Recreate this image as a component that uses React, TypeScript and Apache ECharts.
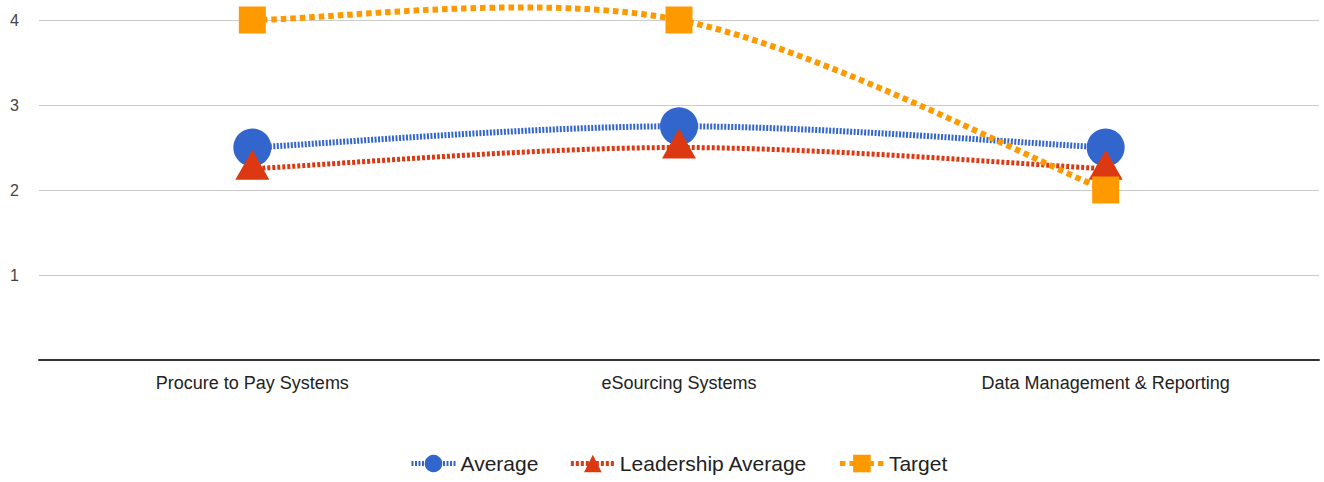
import React, { useEffect, useRef } from "react";
import * as echarts from "echarts";

const categories = ["Procure to Pay Systems", "eSourcing Systems", "Data Management & Reporting"];
const averageValues = [2.5, 2.75, 2.5];
const leadershipValues = [2.25, 2.5, 2.25];
const targetValues = [4, 4, 2];
const yTicks = [0, 1, 2, 3, 4];

const font = "Arial, 'Liberation Sans', sans-serif";

function curveSeries(id: string, values: number[], color: string, width: number, dash: number[], z: number) {
  return {
    id,
    type: "custom",
    z,
    silent: true,
    data: [[0, values[0]]],
    renderItem: (params: any, api: any) => {
      const pts = values.map((v, i) => api.coord([i, v]));
      const k = 1 / 6;
      const out: number[][] = [];
      for (let i = 0; i < pts.length - 1; i++) {
        const p0 = pts[Math.max(0, i - 1)];
        const p1 = pts[i];
        const p2 = pts[i + 1];
        const p3 = pts[Math.min(pts.length - 1, i + 2)];
        const c1 = [p1[0] + (p2[0] - p0[0]) * k, p1[1] + (p2[1] - p0[1]) * k];
        const c2 = [p2[0] - (p3[0] - p1[0]) * k, p2[1] - (p3[1] - p1[1]) * k];
        const steps = 60;
        for (let s = i === 0 ? 0 : 1; s <= steps; s++) {
          const t = s / steps;
          const a = (1 - t) * (1 - t) * (1 - t);
          const b = 3 * (1 - t) * (1 - t) * t;
          const c = 3 * (1 - t) * t * t;
          const d = t * t * t;
          out.push([
            a * p1[0] + b * c1[0] + c * c2[0] + d * p2[0],
            a * p1[1] + b * c1[1] + c * c2[1] + d * p2[1],
          ]);
        }
      }
      return {
        type: "polyline",
        shape: { points: out },
        style: { stroke: color, lineWidth: width, lineDash: dash, fill: null },
      };
    },
  };
}

export default function App() {
  const ref = useRef<HTMLDivElement>(null);
  useEffect(() => {
    if (!ref.current) return;
    const chart = echarts.init(ref.current, undefined, { renderer: "svg" });
    const blue = "#3366cc";
    const red = "#dc3912";
    const orange = "#ff9900";
    const blueDash = [2, 1.5];
    const redDash = [3, 2];
    const orangeDash = [5.5, 4];
    chart.setOption({
      animation: false,
      textStyle: { fontFamily: font },
      grid: { left: 39, right: 5, top: 20, bottom: 122, containLabel: false },
      legend: {
        bottom: 3,
        left: 404,
        itemWidth: 44,
        itemHeight: 22,
        itemGap: 30,
        textStyle: { fontSize: 21, color: "#222", fontFamily: font },
        data: [
          { name: "Average", lineStyle: { opacity: 1, color: blue, width: 5, type: blueDash } },
          { name: "Leadership Average", lineStyle: { opacity: 1, color: red, width: 5, type: redDash } },
          { name: "Target", lineStyle: { opacity: 1, color: orange, width: 5, type: orangeDash } },
        ],
      },
      xAxis: {
        type: "category",
        data: categories,
        boundaryGap: true,
        axisLine: { show: true, lineStyle: { color: "#333", width: 2 } },
        axisTick: { show: false },
        axisLabel: { fontSize: 18, color: "#222", margin: 14, fontFamily: font },
        splitLine: { show: false },
      },
      yAxis: {
        type: "value",
        min: yTicks[0],
        max: yTicks[yTicks.length - 1],
        interval: 1,
        axisLine: { show: false },
        axisTick: { show: false },
        axisLabel: {
          fontSize: 16,
          color: "#444",
          margin: 20,
          fontFamily: font,
          formatter: (v: number) => (v === 0 ? "" : String(v)),
        },
        splitLine: { lineStyle: { color: "#cccccc", width: 1 } },
      },
      series: [
        curveSeries("avgCurve", averageValues, blue, 6, blueDash, 1),
        curveSeries("leadCurve", leadershipValues, red, 5, redDash, 1),
        curveSeries("targetCurve", targetValues, orange, 6, orangeDash, 1),
        {
          name: "Average",
          type: "line",
          data: averageValues,
          clip: false,
          symbol: "circle",
          symbolSize: 38,
          color: blue,
          itemStyle: { color: blue },
          lineStyle: { color: blue, width: 5, type: blueDash, opacity: 0 },
          z: 2,
        },
        {
          name: "Leadership Average",
          type: "line",
          data: leadershipValues,
          clip: false,
          symbol: "triangle",
          symbolSize: [34, 30],
          symbolOffset: [0, -4],
          color: red,
          itemStyle: { color: red },
          lineStyle: { color: red, width: 5, type: redDash, opacity: 0 },
          z: 3,
        },
        {
          name: "Target",
          type: "line",
          data: targetValues,
          clip: false,
          symbol: "rect",
          symbolSize: 27,
          color: orange,
          itemStyle: { color: orange },
          lineStyle: { color: orange, width: 5, type: orangeDash, opacity: 0 },
          z: 4,
        },
      ],
    });
    return () => chart.dispose();
  }, []);
  return (
    <div
      ref={ref}
      style={{ position: "absolute", left: 0, top: 0, width: 1324, height: 482 }}
    />
  );
}
